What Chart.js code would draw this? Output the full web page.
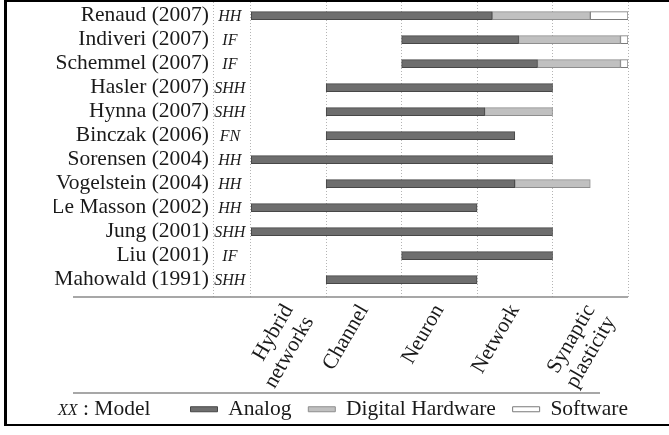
<!DOCTYPE html>
<html>
<head>
<meta charset="utf-8">
<script src="https://cdn.jsdelivr.net/npm/chart.js@4.4.1/dist/chart.umd.min.js"></script>
<style>
  html, body { margin: 0; padding: 0; background: #fff; }
  #wrap { position: relative; width: 669px; height: 435px; overflow: hidden; font-family: "Liberation Serif", serif; color: #1a1a1a; }
  #frame { position: absolute; left: 4px; top: -1px; width: 720px; height: 422px; border: 3px solid #000; border-right: none; border-bottom-width: 2px; }
  #box { position: absolute; left: 0; top: 0; width: 669px; height: 430px; }
  #modelKey { position: absolute; left: 58px; top: 396px; font-size: 21.5px; line-height: 24px; white-space: nowrap; }
  #modelKey i { font-size: 16px; }
</style>
</head>
<body>
<div id="wrap">
  <div id="frame"></div>
  <div id="box"><canvas id="chartCanvas"></canvas></div>
  <div id="modelKey"><i>XX</i> : Model</div>
</div>
<script>
  // === Data ===
  const studies = ['Renaud (2007)', 'Indiveri (2007)', 'Schemmel (2007)', 'Hasler (2007)', 'Hynna (2007)',
    'Binczak (2006)', 'Sorensen (2004)', 'Vogelstein (2004)', 'Le Masson (2002)', 'Jung (2001)',
    'Liu (2001)', 'Mahowald (1991)'];
  const models = ['HH', 'IF', 'IF', 'SHH', 'SHH', 'FN', 'HH', 'HH', 'HH', 'SHH', 'IF', 'SHH'];
  const levels = [['Hybrid', 'networks'], 'Channel', 'Neuron', 'Network', ['Synaptic', 'plasticity']];

  // [from, to] along the level axis, one per study (null = none)
  const analog   = [[0, 3.2], [2, 3.55], [2, 3.8], [1, 4], [1, 3.1], [1, 3.5], [0, 4], [1, 3.5], [0, 3], [0, 4], [2, 4], [1, 3]];
  const digital  = [[3.2, 4.5], [3.55, 4.9], [3.8, 4.9], null, [3.1, 4], null, null, [3.5, 4.5], null, null, null, null];
  const software = [[4.5, 5], [4.9, 5], [4.9, 5], null, null, null, null, null, null, null, null, null];

  const toPoints = arr => arr.map((r, i) => r ? { x: r, y: i } : null).filter(p => p);

  const serif = '"Liberation Serif", "Times New Roman", serif';
  const FS = 21.5;

  // italic model names next to the study labels + decorative rules
  const extras = {
    id: 'extras',
    afterDatasetsDraw(chart) {
      const { ctx, scales: { x, y } } = chart;
      ctx.save();
      ctx.font = 'italic 16px ' + serif;
      ctx.fillStyle = '#1a1a1a';
      ctx.textAlign = 'center';
      ctx.textBaseline = 'middle';
      const cx = x.getPixelForValue(-0.25) - 2;
      models.forEach((m, i) => ctx.fillText(m, cx, y.getPixelForValue(i) + 1));
      ctx.restore();
    },
    afterDraw(chart) {
      const { ctx, chartArea, scales: { x } } = chart;
      ctx.save();
      ctx.strokeStyle = '#8a8a8a';
      ctx.lineWidth = 1.5;
      ctx.beginPath();
      ctx.moveTo(73, chartArea.bottom + 0.5);
      ctx.lineTo(chartArea.right, chartArea.bottom + 0.5);
      ctx.moveTo(73, x.bottom + 0.5);
      ctx.lineTo(600, x.bottom + 0.5);
      ctx.stroke();
      ctx.restore();
    }
  };

  const xTicks = [-0.5, 0, 0.5, 1, 1.5, 2, 2.5, 3, 3.5, 4, 4.5, 5];

  const ctx = document.getElementById('chartCanvas').getContext('2d');
  const chart = new Chart(ctx, {
    type: 'bar',
    data: {
      datasets: [
        { label: 'Analog  ', data: toPoints(analog), backgroundColor: '#6e6e6e', borderColor: '#474747' },
        { label: 'Digital Hardware  ', data: toPoints(digital), backgroundColor: '#c0c0c0', borderColor: '#8e8e8e' },
        { label: 'Software', data: toPoints(software), backgroundColor: '#ffffff', borderColor: '#7a7a7a' }
      ]
    },
    options: {
      indexAxis: 'y',
      responsive: true,
      maintainAspectRatio: false,
      animation: false,
      layout: { padding: { left: 54, right: 35, top: 2, bottom: 0 } },
      datasets: { bar: { grouped: false, barThickness: 8, borderWidth: 1, borderSkipped: false } },
      plugins: {
        tooltip: { enabled: false },
        legend: {
          position: 'bottom',
          align: 'end',
          labels: {
            color: '#1a1a1a',
            font: { family: serif, size: FS },
            boxWidth: 27,
            boxHeight: 5,
            padding: 6
          }
        }
      },
      scales: {
        x: {
          type: 'linear',
          min: -0.5,
          max: 5,
          offset: false,
          afterBuildTicks: s => { s.ticks = xTicks.map(v => ({ value: v })); },
          afterFit: s => {
            s.height = 96;
            s.paddingLeft = 0;
            s.paddingRight = 41;
            s.paddingTop = 0;
            s.paddingBottom = 0;
          },
          grid: {
            color: c => (c.tick && (Number.isInteger(c.tick.value) || c.tick.value === -0.5)) ? '#b4b4b4' : 'rgba(0,0,0,0)',
            drawTicks: false
          },
          border: { display: false, dash: [1, 2] },
          ticks: {
            autoSkip: false,
            minRotation: 60,
            maxRotation: 60,
            padding: 4,
            color: '#1a1a1a',
            font: { family: serif, size: FS, lineHeight: 1.1 },
            callback: v => {
              const k = v - 0.5;
              return (Number.isInteger(k) && k >= 0 && k < levels.length) ? levels[k] : '';
            }
          }
        },
        y: {
          type: 'linear',
          reverse: true,
          offset: false,
          min: -0.57,
          max: 11.7,
          afterBuildTicks: s => { s.ticks = studies.map((_, i) => ({ value: i })); },
          afterFit: s => {
            s.width = 159;
            s.paddingTop = 0;
            s.paddingBottom = 0;
          },
          grid: { display: false, drawTicks: false, offset: false },
          border: { display: false },
          ticks: {
            autoSkip: false,
            padding: 4,
            color: '#1a1a1a',
            font: { family: serif, size: FS },
            callback: v => studies[v]
          }
        }
      }
    },
    plugins: [extras]
  });
</script>
</body>
</html>
